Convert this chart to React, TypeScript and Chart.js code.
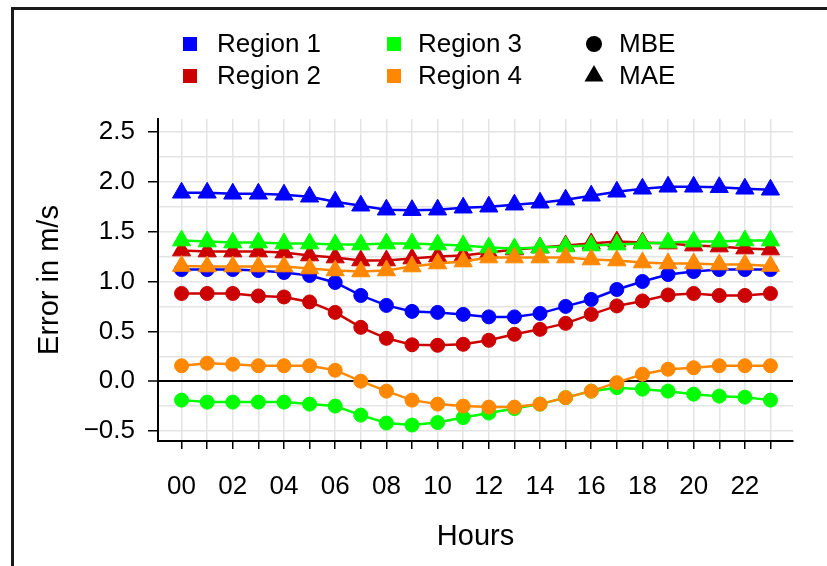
import React, { useEffect, useRef } from 'react';
import { Chart, registerables } from 'chart.js';

Chart.register(...registerables);

// ---------- data ----------
const hours = [0, 1, 2, 3, 4, 5, 6, 7, 8, 9, 10, 11, 12, 13, 14, 15, 16, 17, 18, 19, 20, 21, 22, 23];
const xTickLabels = ['00', '02', '04', '06', '08', '10', '12', '14', '16', '18', '20', '22'];

const regionNames = ['Region 1', 'Region 2', 'Region 3', 'Region 4'];
const regionColors = ['#0000ff', '#cc0000', '#00ff00', '#ff8800'];

const r1MBE = [1.12, 1.12, 1.12, 1.11, 1.09, 1.06, 0.99, 0.86, 0.76, 0.70, 0.69, 0.67, 0.645, 0.645, 0.68, 0.75, 0.82, 0.92, 1.00, 1.07, 1.10, 1.12, 1.12, 1.12];
const r2MBE = [0.88, 0.88, 0.88, 0.855, 0.845, 0.795, 0.69, 0.54, 0.43, 0.365, 0.36, 0.37, 0.41, 0.47, 0.52, 0.58, 0.67, 0.755, 0.805, 0.865, 0.88, 0.86, 0.86, 0.88];
const r3MBE = [-0.19, -0.21, -0.21, -0.21, -0.21, -0.23, -0.25, -0.34, -0.42, -0.44, -0.415, -0.365, -0.32, -0.275, -0.23, -0.165, -0.10, -0.065, -0.08, -0.10, -0.13, -0.15, -0.16, -0.19];
const r4MBE = [0.155, 0.18, 0.17, 0.155, 0.155, 0.155, 0.11, 0.0, -0.10, -0.19, -0.23, -0.25, -0.26, -0.26, -0.23, -0.165, -0.10, -0.015, 0.07, 0.12, 0.135, 0.155, 0.155, 0.155];

const r1MAE = [1.89, 1.89, 1.88, 1.88, 1.87, 1.85, 1.80, 1.76, 1.72, 1.715, 1.72, 1.74, 1.75, 1.77, 1.79, 1.82, 1.86, 1.90, 1.93, 1.95, 1.95, 1.945, 1.93, 1.92];
const r2MAE = [1.31, 1.30, 1.30, 1.30, 1.29, 1.26, 1.24, 1.21, 1.21, 1.23, 1.25, 1.26, 1.29, 1.32, 1.34, 1.36, 1.38, 1.40, 1.39, 1.38, 1.36, 1.35, 1.33, 1.32];
const r3MAE = [1.41, 1.40, 1.39, 1.39, 1.38, 1.38, 1.37, 1.37, 1.38, 1.38, 1.37, 1.36, 1.34, 1.33, 1.34, 1.35, 1.36, 1.37, 1.38, 1.39, 1.40, 1.40, 1.41, 1.41];
const r4MAE = [1.155, 1.15, 1.15, 1.15, 1.15, 1.13, 1.11, 1.10, 1.11, 1.15, 1.18, 1.20, 1.24, 1.24, 1.24, 1.24, 1.22, 1.21, 1.19, 1.18, 1.18, 1.17, 1.17, 1.155];

const mbeSeries = [r1MBE, r2MBE, r3MBE, r4MBE];
const maeSeries = [r1MAE, r2MAE, r3MAE, r4MAE];

const metricNames = ['MBE', 'MAE'];

const FONT = '"Liberation Sans", Arial, Helvetica, sans-serif';

// ---------- custom legend ----------
const legendPlugin = {
  id: 'gridLegend',
  afterDraw(chart: any) {
    const ctx = chart.ctx as CanvasRenderingContext2D;
    ctx.save();
    ctx.font = `26px ${FONT}`;
    ctx.textBaseline = 'middle';
    ctx.textAlign = 'left';
    const rows = [44, 76];
    const squareX = [190, 394];
    const textX = [217, 418];
    regionNames.forEach((name, i) => {
      const col = Math.floor(i / 2);
      const row = i % 2;
      const cy = rows[row];
      ctx.fillStyle = regionColors[i];
      ctx.fillRect(squareX[col] - 7, cy - 7, 14, 14);
      ctx.fillStyle = '#000';
      ctx.fillText(name, textX[col], cy + 1);
    });
    // metric symbols
    const sx = 594;
    ctx.fillStyle = '#000';
    ctx.beginPath();
    ctx.arc(sx, rows[0], 8, 0, Math.PI * 2);
    ctx.fill();
    ctx.beginPath();
    const r = 11;
    ctx.moveTo(sx, rows[1] - r);
    ctx.lineTo(sx + r * Math.sin((2 * Math.PI) / 3), rows[1] - r * Math.cos((2 * Math.PI) / 3));
    ctx.lineTo(sx + r * Math.sin((4 * Math.PI) / 3), rows[1] - r * Math.cos((4 * Math.PI) / 3));
    ctx.closePath();
    ctx.fill();
    ctx.fillText(metricNames[0], 619, rows[0] + 1);
    ctx.fillText(metricNames[1], 619, rows[1] + 1);
    ctx.restore();
  },
};

export default function App() {
  const canvasRef = useRef<HTMLCanvasElement | null>(null);

  useEffect(() => {
    if (!canvasRef.current) return;
    const datasets: any[] = [];
    regionNames.forEach((name, i) => {
      const c = regionColors[i];
      datasets.push({
        label: `${name} ${metricNames[0]}`,
        data: hours.map((h, j) => ({ x: h, y: mbeSeries[i][j] })),
        borderColor: c,
        backgroundColor: c,
        pointBackgroundColor: c,
        pointBorderColor: c,
        borderWidth: 2.5,
        pointBorderWidth: 1,
        pointStyle: 'circle',
        pointRadius: 7,
        tension: 0,
      });
      datasets.push({
        label: `${name} ${metricNames[1]}`,
        data: hours.map((h, j) => ({ x: h, y: maeSeries[i][j] })),
        borderColor: c,
        backgroundColor: c,
        pointBackgroundColor: c,
        pointBorderColor: c,
        borderWidth: 2.5,
        pointBorderWidth: 1,
        pointStyle: 'triangle',
        pointRadius: 10.5,
        tension: 0,
      });
    });
    datasets.forEach((d, idx) => (d.order = -idx));

    const chart = new Chart(canvasRef.current, {
      type: 'line',
      data: { datasets },
      plugins: [legendPlugin],
      options: {
        animation: false,
        responsive: false,
        events: [],
        layout: { padding: { top: 119, right: 34, left: 0, bottom: 0 } },
        plugins: {
          legend: { display: false },
          tooltip: { enabled: false },
        },
        scales: {
          x: {
            type: 'linear',
            min: -0.92,
            max: 23.88,
            afterFit: (s: any) => {
              s.height = 125;
            },
            border: { display: true, color: '#000', width: 2 },
            grid: {
              color: '#e4e4e4',
              lineWidth: 1.5,
              tickColor: '#000',
              tickLength: 8,
              tickWidth: 1.5,
            },
            ticks: {
              stepSize: 1,
              includeBounds: false,
              autoSkip: false,
              maxRotation: 0,
              padding: 22,
              color: '#000',
              font: { family: FONT, size: 26 },
              callback: (v: any) => {
                const n = Number(v);
                return n % 2 === 0 ? xTickLabels[n / 2] : '';
              },
            },
            title: {
              display: true,
              text: 'Hours',
              color: '#000',
              font: { family: FONT, size: 29 },
              padding: { top: 0, bottom: 12 },
            },
          },
          y: {
            type: 'linear',
            min: -0.6,
            max: 2.63,
            afterFit: (s: any) => {
              s.width = 158;
            },
            border: { display: true, color: '#000', width: 2 },
            grid: {
              color: (c: any) => (c.tick && Math.abs(c.tick.value) < 1e-9 ? '#000' : '#e4e4e4'),
              lineWidth: (c: any) => (c.tick && Math.abs(c.tick.value) < 1e-9 ? 2 : 1.5),
              tickColor: (c: any) => {
                const v = c.tick ? c.tick.value : 0;
                return Math.abs(Math.round(v * 2) - v * 2) < 1e-6 ? '#000' : 'rgba(0,0,0,0)';
              },
              tickLength: 10,
              tickWidth: 1.5,
            },
            ticks: {
              stepSize: 0.25,
              includeBounds: false,
              autoSkip: false,
              padding: 13,
              color: '#000',
              font: { family: FONT, size: 26 },
              callback: (v: any) => {
                const n = Number(v);
                if (Math.abs(Math.round(n * 2) - n * 2) > 1e-6) return '';
                const s = Math.abs(n).toFixed(1);
                return n < -1e-9 ? '\u2212' + s : s;
              },
            },
            title: {
              display: true,
              text: 'Error in m/s',
              color: '#000',
              font: { family: FONT, size: 29 },
              padding: { top: 33, bottom: 0 },
            },
          },
        },
      } as any,
    });
    return () => chart.destroy();
  }, []);

  return (
    <div style={{ position: 'fixed', left: 0, top: 0, width: 827, height: 566, background: '#fff', overflow: 'hidden' }}>
      <div
        style={{
          position: 'absolute',
          left: 11,
          top: 7,
          width: 816,
          height: 559,
          boxSizing: 'border-box',
          borderLeft: '3px solid #1a1a1a',
          borderTop: '3px solid #1a1a1a',
        }}
      />
      <canvas
        ref={canvasRef}
        width={827}
        height={566}
        style={{ position: 'absolute', left: 0, top: 0, width: 827, height: 566 }}
      />
    </div>
  );
}
